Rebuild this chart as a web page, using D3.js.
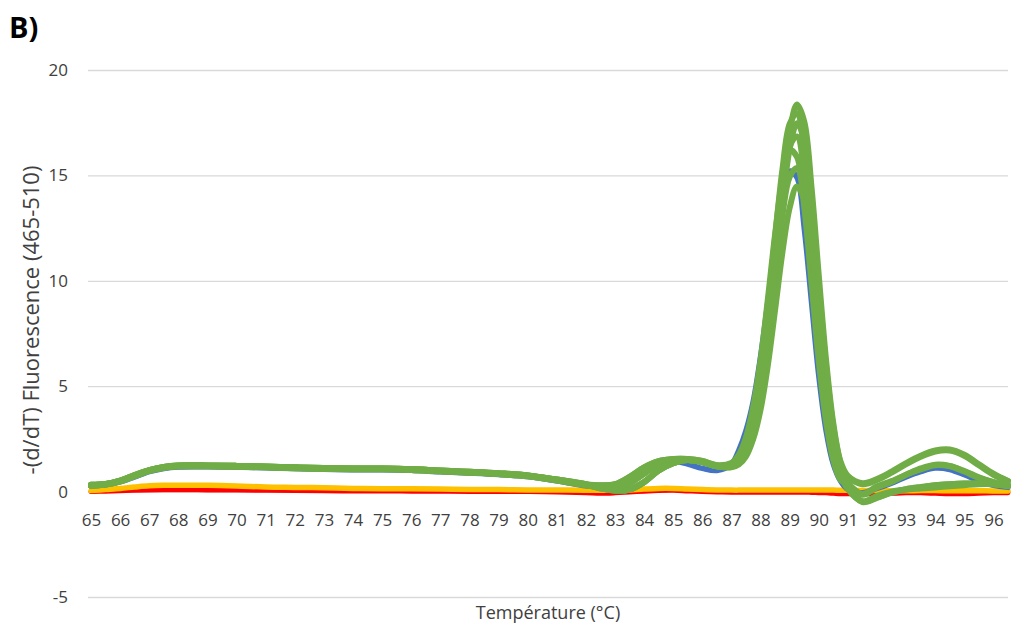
<!DOCTYPE html>
<html>
<head>
<meta charset="utf-8">
<script src="https://cdn.jsdelivr.net/npm/d3@7"></script>
<style>
  html, body { margin: 0; padding: 0; background: #fff; }
  svg text { font-family: "Open Sans", "Noto Sans", sans-serif; }
</style>
</head>
<body>
<svg id="chart" width="1011" height="632"></svg>
<script>
// ---------- data ----------
const temps = [65, 65.5, 66, 66.5, 67, 67.5, 68, 69, 70, 71, 72, 73, 74, 75, 76, 77, 78, 79, 80, 81, 82,
  82.5, 83, 83.5, 84, 84.5, 85, 85.5, 86, 86.5,
  87, 87.25, 87.5, 87.75, 88, 88.25, 88.5, 88.75, 89, 89.25, 89.5, 89.75, 90, 90.25, 90.5, 90.75, 91,
  91.5, 92, 92.5, 93, 93.5, 94, 94.5, 95, 95.5, 96, 96.5];

const xTickLabels = [65, 66, 67, 68, 69, 70, 71, 72, 73, 74, 75, 76, 77, 78, 79, 80,
  81, 82, 83, 84, 85, 86, 87, 88, 89, 90, 91, 92, 93, 94, 95, 96];
const yTickLabels = [-5, 0, 5, 10, 15, 20];

const red1 = [0.00, 0.02, 0.04, 0.06, 0.08, 0.09, 0.09, 0.08, 0.07, 0.06, 0.05, 0.04, 0.03, 0.03, 0.02, 0.02, 0.01, 0.00, 0.00, -0.02, -0.05,
  -0.08, -0.06, -0.02, 0.02, 0.05, 0.06, 0.03, 0.00, -0.02,
  -0.03, -0.03, -0.03, -0.03, -0.03, -0.03, -0.03, -0.03, -0.03, -0.03, -0.03, -0.04, -0.05, -0.06, -0.08, -0.10, -0.10,
  -0.10, -0.10, -0.08, -0.06, -0.06, -0.08, -0.10, -0.10, -0.08, -0.06, -0.05];

const orange1 = [0.05, 0.10, 0.15, 0.22, 0.28, 0.30, 0.30, 0.30, 0.27, 0.22, 0.20, 0.18, 0.15, 0.14, 0.13, 0.12, 0.10, 0.10, 0.08, 0.08, 0.06,
  0.06, 0.06, 0.08, 0.12, 0.15, 0.15, 0.12, 0.10, 0.08,
  0.07, 0.07, 0.07, 0.07, 0.07, 0.07, 0.07, 0.07, 0.07, 0.07, 0.07, 0.07, 0.07, 0.07, 0.07, 0.06, 0.06,
  0.05, 0.05, 0.04, 0.04, 0.05, 0.05, 0.04, 0.04, 0.04, 0.03, 0.03];

const blue1 = [0.27, 0.32, 0.46, 0.70, 0.95, 1.10, 1.17, 1.18, 1.16, 1.13, 1.09, 1.06, 1.04, 1.04, 1.01, 0.94, 0.88, 0.81, 0.71, 0.51, 0.28,
  0.25, 0.25, 0.60, 1.05, 1.35, 1.45, 1.30, 1.10, 1.00,
  1.30, 1.95, 2.90, 4.30, 6.40, 9.00, 11.80, 14.00, 15.20, 14.90, 12.50, 9.00, 5.50, 2.90, 1.30, 0.50, 0.10,
  -0.05, 0.15, 0.40, 0.70, 0.95, 1.12, 1.05, 0.80, 0.50, 0.30, 0.20];

const green1 = [0.32, 0.36, 0.52, 0.78, 1.02, 1.17, 1.24, 1.24, 1.22, 1.19, 1.15, 1.12, 1.10, 1.10, 1.07, 1.00, 0.94, 0.87, 0.77, 0.57, 0.35,
  0.30, 0.35, 0.70, 1.15, 1.45, 1.55, 1.55, 1.45, 1.25,
  1.19, 1.38, 1.90, 2.99, 4.80, 7.50, 10.87, 14.34, 17.08, 18.36, 17.56, 14.45, 10.25, 6.25, 3.23, 1.42, 0.75,
  0.40, 0.60, 0.95, 1.35, 1.70, 1.95, 2.00, 1.75, 1.30, 0.85, 0.50];

const green2 = [0.30, 0.35, 0.50, 0.75, 1.00, 1.15, 1.22, 1.22, 1.20, 1.17, 1.13, 1.10, 1.08, 1.08, 1.05, 0.98, 0.92, 0.85, 0.75, 0.55, 0.32,
  0.15, 0.05, 0.10, 0.45, 1.00, 1.35, 1.50, 1.40, 1.20,
  1.27, 1.57, 2.27, 3.60, 5.69, 8.65, 12.06, 15.27, 17.44, 17.95, 16.19, 12.56, 8.40, 4.80, 2.32, 0.94, 0.20,
  -0.50, -0.30, -0.05, 0.10, 0.20, 0.30, 0.35, 0.38, 0.38, 0.35, 0.25];

const green3 = [0.28, 0.33, 0.48, 0.73, 0.98, 1.13, 1.20, 1.20, 1.18, 1.15, 1.11, 1.08, 1.06, 1.06, 1.03, 0.96, 0.90, 0.83, 0.73, 0.53, 0.30,
  0.20, 0.15, 0.40, 0.85, 1.30, 1.50, 1.50, 1.40, 1.20,
  1.18, 1.36, 1.85, 2.88, 4.59, 7.15, 10.36, 13.65, 16.25, 17.47, 16.70, 13.74, 9.74, 5.94, 3.07, 1.34, 0.45,
  -0.15, 0.20, 0.45, 0.80, 1.05, 1.25, 1.20, 0.95, 0.65, 0.45, 0.30];

const green4 = [0.32, 0.36, 0.52, 0.78, 1.02, 1.17, 1.24, 1.24, 1.22, 1.19, 1.15, 1.12, 1.10, 1.10, 1.07, 1.00, 0.94, 0.87, 0.77, 0.57, 0.35,
  0.15, 0.05, 0.10, 0.45, 1.00, 1.35, 1.50, 1.40, 1.20,
  1.25, 1.52, 2.18, 3.42, 5.37, 8.14, 11.34, 14.35, 16.38, 16.85, 15.20, 11.79, 7.88, 4.50, 2.17, 0.87, 0.20,
  -0.45, -0.20, 0.00, 0.10, 0.15, 0.20, 0.25, 0.30, 0.35, 0.35, 0.30];

const green5 = [0.30, 0.35, 0.50, 0.75, 1.00, 1.15, 1.22, 1.22, 1.20, 1.17, 1.13, 1.10, 1.08, 1.08, 1.05, 0.98, 0.92, 0.85, 0.75, 0.55, 0.32,
  0.30, 0.35, 0.70, 1.15, 1.45, 1.55, 1.55, 1.45, 1.25,
  1.36, 1.74, 2.57, 4.04, 6.24, 9.12, 12.21, 14.81, 16.20, 15.88, 13.51, 9.88, 6.20, 3.34, 1.49, 0.55, 0.35,
  -0.10, 0.25, 0.50, 0.80, 1.10, 1.28, 1.22, 0.98, 0.68, 0.45, 0.30];

const green6 = [0.28, 0.33, 0.48, 0.73, 0.98, 1.13, 1.20, 1.20, 1.18, 1.15, 1.11, 1.08, 1.06, 1.06, 1.03, 0.96, 0.90, 0.83, 0.73, 0.53, 0.30,
  0.20, 0.15, 0.40, 0.85, 1.30, 1.50, 1.50, 1.40, 1.20,
  1.23, 1.47, 2.05, 3.18, 4.94, 7.46, 10.36, 13.09, 14.93, 15.35, 13.85, 10.74, 7.18, 4.10, 1.97, 0.79, 0.10,
  -0.48, -0.28, -0.05, 0.12, 0.22, 0.30, 0.35, 0.38, 0.38, 0.35, 0.28];

const green7 = [0.32, 0.36, 0.52, 0.78, 1.02, 1.17, 1.24, 1.24, 1.22, 1.19, 1.15, 1.12, 1.10, 1.10, 1.07, 1.00, 0.94, 0.87, 0.77, 0.57, 0.35,
  0.15, 0.05, 0.10, 0.45, 1.00, 1.35, 1.50, 1.40, 1.20,
  1.15, 1.28, 1.67, 2.50, 3.89, 5.99, 8.63, 11.34, 13.47, 14.47, 13.84, 11.38, 8.06, 4.90, 2.52, 1.10, 0.70,
  0.35, 0.55, 0.90, 1.30, 1.65, 1.90, 1.95, 1.70, 1.25, 0.80, 0.50];

const seriesList = [
  { values: red1, color: "#FF0000", width: 5 },
  { values: orange1, color: "#FFC000", width: 5.5 },
  { values: blue1, color: "#4472C4", width: 5.5 },
  { values: green7, color: "#70AD47", width: 6 },
  { values: green6, color: "#70AD47", width: 6 },
  { values: green5, color: "#70AD47", width: 6 },
  { values: green4, color: "#70AD47", width: 6 },
  { values: green3, color: "#70AD47", width: 6 },
  { values: green2, color: "#70AD47", width: 6 },
  { values: green1, color: "#70AD47", width: 6 }
];

// ---------- layout ----------
const svg = d3.select("#chart");
const plotLeft = 88, plotRight = 1008, plotTop = 70, plotBottom = 597;

const x = d3.scaleLinear().domain([65, 96.5]).range([91, 1008]);
const y = d3.scaleLinear().domain([-5, 20]).range([plotBottom, plotTop]);

// y axis + gridlines
const yAxis = d3.axisLeft(y)
  .tickValues(yTickLabels)
  .tickSize(-(plotRight - plotLeft))
  .tickPadding(20)
  .tickFormat(d => String(d));
const gy = svg.append("g").attr("transform", `translate(${plotLeft},0)`).call(yAxis);
gy.select(".domain").remove();
gy.selectAll(".tick line").attr("stroke", "#D9D9D9").attr("stroke-width", 1.3);
gy.selectAll(".tick text").attr("fill", "#404040").style("font-size", "17px");

// x axis labels (at y = 0)
const xAxis = d3.axisBottom(x)
  .tickValues(xTickLabels)
  .tickSize(0)
  .tickPadding(22)
  .tickFormat(d => String(d));
const gx = svg.append("g").attr("transform", `translate(0,${y(0)})`).call(xAxis);
gx.select(".domain").remove();
gx.selectAll(".tick text").attr("fill", "#404040").style("font-size", "17px");

// lines
const line = d3.line()
  .x((d, i) => x(temps[i]))
  .y(d => y(d))
  .curve(d3.curveCatmullRom.alpha(0.5));

svg.append("g").selectAll("path")
  .data(seriesList)
  .join("path")
  .attr("d", s => line(s.values))
  .attr("fill", "none")
  .attr("stroke", s => s.color)
  .attr("stroke-width", s => s.width)
  .attr("stroke-linejoin", "round")
  .attr("stroke-linecap", "round");

// titles
svg.append("text")
  .attr("x", (plotLeft + plotRight) / 2)
  .attr("y", 619)
  .attr("text-anchor", "middle")
  .attr("fill", "#404040")
  .style("font-size", "18px")
  .text("Température (°C)");

svg.append("text")
  .attr("transform", `translate(39,320) rotate(-90)`)
  .attr("text-anchor", "middle")
  .attr("fill", "#404040")
  .style("font-size", "22px")
  .text("-(d/dT) Fluorescence (465-510)");

svg.append("text")
  .attr("x", 9)
  .attr("y", 38)
  .attr("fill", "#000")
  .style("font-size", "29px")
  .style("font-weight", "bold")
  .text("B)");
</script>
</body>
</html>
